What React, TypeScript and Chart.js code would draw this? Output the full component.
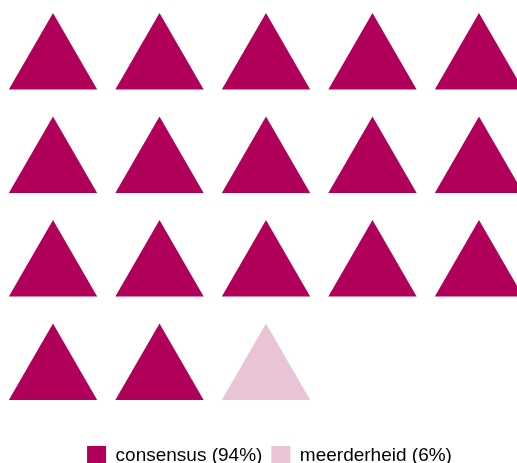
import React, { useEffect, useRef } from "react";
import { Chart, registerables } from "chart.js";

Chart.register(...registerables);

const categories = ["consensus (94%)", "meerderheid (6%)"];
const counts = [17, 1];
const colors = ["rgb(176,0,90)", "rgb(232,196,214)"];
const COLUMNS = 5;

export default function App() {
  const ref = useRef<HTMLCanvasElement | null>(null);

  useEffect(() => {
    if (!ref.current) return;
    let index = 0;
    const datasets = categories.map((label, k) => {
      const data: { x: number; y: number }[] = [];
      for (let i = 0; i < counts[k]; i++) {
        data.push({ x: index % COLUMNS, y: Math.floor(index / COLUMNS) });
        index++;
      }
      return {
        label,
        data,
        pointStyle: "triangle" as const,
        pointRadius: 51,
        pointHoverRadius: 51,
        backgroundColor: colors[k],
        borderColor: colors[k],
        borderWidth: 0,
        clip: false as const,
      };
    });

    const chart = new Chart(ref.current, {
      type: "scatter",
      data: { datasets },
      options: {
        animation: false,
        responsive: false,
        events: [],
        layout: { padding: { left: 22, right: 0, top: 0, bottom: 0 }, autoPadding: false },
        scales: {
          x: { display: false, min: -0.2911, max: 4.357 },
          y: { display: false, reverse: true, min: -0.618, max: 3.604 },
        },
        plugins: {
          tooltip: { enabled: false },
          legend: {
            position: "bottom",
            labels: {
              boxWidth: 19,
              boxHeight: 19,
              padding: 9,
              color: "#222",
              font: { family: "'Liberation Sans', Arial, sans-serif", size: 19 },
              generateLabels: (c) =>
                c.data.datasets.map((d, i) => ({
                  text: d.label as string,
                  fillStyle: colors[i],
                  strokeStyle: colors[i],
                  lineWidth: 0,
                  hidden: false,
                  datasetIndex: i,
                })),
            },
          },
        },
      },
    });
    return () => chart.destroy();
  }, []);

  return (
    <div style={{ position: "absolute", left: 0, top: 0, width: 517, height: 475 }}>
      <canvas ref={ref} width={517} height={475} style={{ width: 517, height: 475 }} />
    </div>
  );
}
